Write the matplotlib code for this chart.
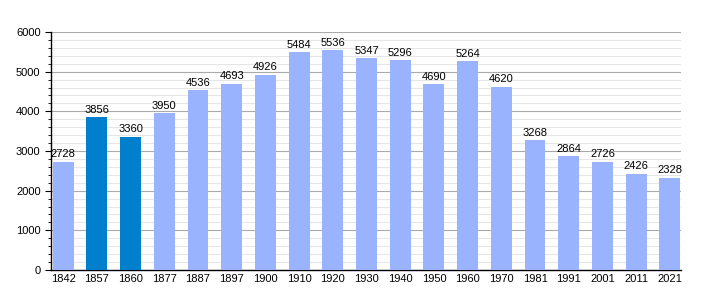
import matplotlib
matplotlib.use("Agg")
import matplotlib.pyplot as plt
from matplotlib.ticker import MultipleLocator

plt.rcParams['font.family'] = ['Liberation Sans', 'DejaVu Sans']

years = ["1842", "1857", "1860", "1877", "1887", "1897", "1900", "1910", "1920", "1930",
         "1940", "1950", "1960", "1970", "1981", "1991", "2001", "2011", "2021"]
population = [2728, 3856, 3360, 3950, 4536, 4693, 4926, 5484, 5536, 5347,
              5296, 4690, 5264, 4620, 3268, 2864, 2726, 2426, 2328]
highlight = ["1857", "1860"]

light = "#99b3ff"
dark = "#0080cc"

fig = plt.figure(figsize=(7.1, 3.0), dpi=100)
ax = fig.add_axes([51/710, 30/300, 630/710, 238/300])

x = list(range(len(years)))
colors = [dark if y in highlight else light for y in years]
ax.bar(x, population, width=0.62, color=colors, zorder=3)
for xi, v in zip(x, population):
    ax.text(xi, v + 60, str(v), ha="center", va="bottom", fontsize=8, zorder=4)

ax.set_xlim(-0.36, len(years) - 0.67)
ax.set_ylim(0, 6000)
ax.yaxis.set_major_locator(MultipleLocator(1000))
ax.yaxis.set_minor_locator(MultipleLocator(200))
ax.grid(axis="y", which="major", color="#aaaaaa", linewidth=0.8, zorder=0)
ax.grid(axis="y", which="minor", color="#e6e6e6", linewidth=0.8, zorder=0)
ax.set_xticks(x)
ax.set_xticklabels(years)
ax.tick_params(axis="x", length=0, labelsize=8, pad=3)
ax.tick_params(axis="y", which="major", length=4, labelsize=8, direction="out")
ax.tick_params(axis="y", which="minor", length=2, direction="out")
for s in ["top", "right"]:
    ax.spines[s].set_visible(False)
ax.spines["left"].set_linewidth(1)
ax.spines["bottom"].set_linewidth(1)

fig.savefig("out.png", dpi=100)
